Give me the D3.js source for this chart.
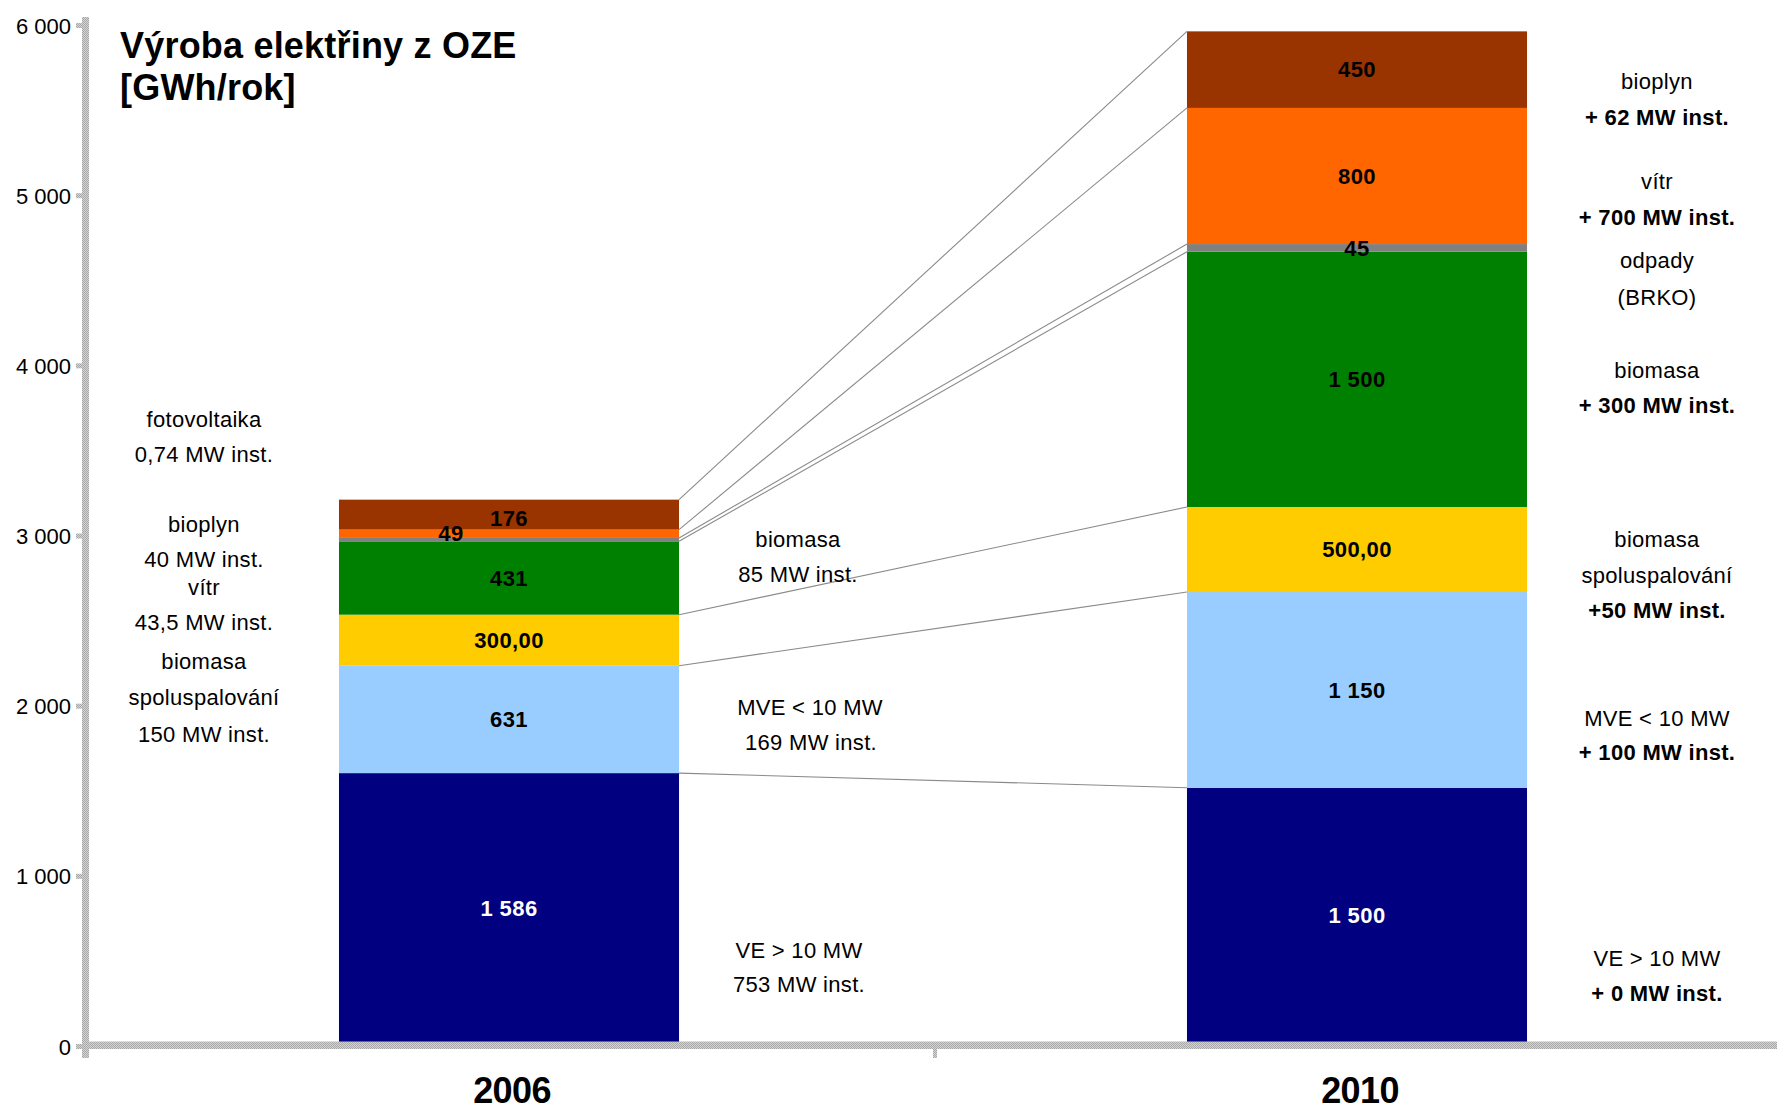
<!DOCTYPE html>
<html>
<head>
<meta charset="utf-8">
<script src="https://cdn.jsdelivr.net/npm/d3@7/dist/d3.min.js"></script>
<style>
  html, body { margin: 0; padding: 0; background: #fff; }
  svg { display: block; font-family: "Liberation Sans", Arial, sans-serif; }
</style>
</head>
<body>
<script>
// ---------------- DATA ----------------
const categories = ["2006", "2010"];
const seriesKeys = ["VE > 10 MW", "MVE < 10 MW", "biomasa spoluspalování", "biomasa", "odpady (BRKO)", "vítr", "bioplyn"];
const values2006 = [1586, 631, 300, 431, 20, 49, 176];
const values2010 = [1500, 1150, 500, 1500, 45, 800, 450];
const labelDecimals = [0, 0, 2, 0, 0, 0, 0];
const hiddenLabels = ["2006|odpady (BRKO)"];
const yTickValues = [0, 1000, 2000, 3000, 4000, 5000, 6000];
const titleLines = ["Výroba elektřiny z OZE", "[GWh/rok]"];

// annotation texts (layout kept separately below)
const leftNotes = ["fotovoltaika", "0,74 MW inst.", "bioplyn", "40 MW inst.", "vítr", "43,5 MW inst.", "biomasa", "spoluspalování", "150 MW inst."];
const midNotes = ["biomasa", "85 MW inst.", "MVE < 10 MW", "169 MW inst.", "VE > 10 MW", "753 MW inst."];
const rightNotes = ["bioplyn", "+ 62 MW inst.", "vítr", "+ 700 MW inst.", "odpady", "(BRKO)", "biomasa", "+ 300 MW inst.",
                    "biomasa", "spoluspalování", "+50 MW inst.", "MVE < 10 MW", "+ 100 MW inst.", "VE > 10 MW", "+ 0 MW inst."];
const rightBold = [false, true, false, true, false, false, false, true, false, false, true, false, true, false, true];

// ---------------- LAYOUT / STYLE ----------------
const W = 1777, H = 1112;
const colors = ["#000080", "#99ccff", "#ffcc00", "#008000", "#808080", "#ff6600", "#993300"];
const labelColors = ["#ffffff", "#000", "#000", "#000", "#000", "#000", "#000"];
const labelOffsets = { "2006|vítr": [-58, 0], "2006|bioplyn": [0, 4] };
const leftY = [427, 462, 532, 567, 595, 630, 669, 705, 742];
const midLayout = [[798, 547], [798, 582], [810, 715], [811, 750], [799, 958], [799, 992]];
const rightY = [89, 125, 189, 225, 268, 305, 378, 413, 547, 583, 618, 726, 760, 966, 1001];

const locale = d3.formatLocale({ decimal: ",", thousands: "\u00a0", grouping: [3], currency: ["", ""] });

const svg = d3.select("body").append("svg").attr("width", W).attr("height", H);

// hatched axis pattern
const defs = svg.append("defs");
const pat = defs.append("pattern").attr("id", "hatch").attr("width", 2).attr("height", 2)
  .attr("patternUnits", "userSpaceOnUse");
pat.append("rect").attr("width", 2).attr("height", 2).attr("fill", "#d4d4d4");
pat.append("rect").attr("width", 1).attr("height", 1).attr("fill", "#a8a8a8");
pat.append("rect").attr("x", 1).attr("y", 1).attr("width", 1).attr("height", 1).attr("fill", "#a8a8a8");

const x = d3.scaleBand().domain(categories).range([85, 1781]).paddingInner(0.599).paddingOuter(0.2995);
const y = d3.scaleLinear().domain([0, 6000]).range([1043, 22]);

const table = categories.map((c, ci) => {
  const row = { year: c };
  const vals = ci === 0 ? values2006 : values2010;
  seriesKeys.forEach((k, i) => row[k] = vals[i]);
  return row;
});
const stacked = d3.stack().keys(seriesKeys)(table);

// bars
const layers = svg.append("g").selectAll("g").data(stacked).join("g")
  .attr("fill", (d, i) => colors[i]);
layers.selectAll("rect").data(d => d.map(p => ({ p, key: d.key }))).join("rect")
  .attr("x", d => x(d.p.data.year))
  .attr("width", x.bandwidth())
  .attr("y", d => y(d.p[1]))
  .attr("height", d => y(d.p[0]) - y(d.p[1]));

// connector lines between stacks
svg.append("g").selectAll("line").data(stacked).join("line")
  .attr("x1", x(categories[0]) + x.bandwidth())
  .attr("y1", d => y(d[0][1]))
  .attr("x2", x(categories[1]))
  .attr("y2", d => y(d[1][1]))
  .attr("stroke", "#8a8a8a").attr("stroke-width", 1.1);

// y axis
const yAxis = d3.axisLeft(y).tickValues(yTickValues)
  .tickFormat(d => locale.format(",")(d)).tickSize(0).tickPadding(0);
const ya = svg.append("g").attr("transform", "translate(71,0)").call(yAxis);
ya.select(".domain").remove();
ya.selectAll("text").attr("font-size", 22).attr("fill", "#000")
  .attr("font-family", "Liberation Sans, Arial, sans-serif").attr("dy", "0.32em")
  .attr("transform", "translate(0,4)").attr("letter-spacing", 0);
// tick marks
svg.append("g").selectAll("rect").data(yTickValues).join("rect")
  .attr("x", 76).attr("width", 7).attr("y", d => y(d) + 1).attr("height", 5)
  .attr("fill", "url(#hatch)");
// axis bars
svg.append("rect").attr("x", 82).attr("y", 17).attr("width", 7).attr("height", 1058 - 17).attr("fill", "url(#hatch)");
svg.append("rect").attr("x", 82).attr("y", y(0) - 1.5).attr("width", W - 82).attr("height", 7.5).attr("fill", "url(#hatch)");
// category separator tick
svg.append("rect").attr("x", 933).attr("y", y(0)).attr("width", 4).attr("height", 15).attr("fill", "url(#hatch)");

// category labels
svg.append("g").selectAll("text").data(categories).join("text")
  .attr("x", d => x(d) + x.bandwidth() / 2 + 3)
  .attr("y", 1103)
  .attr("text-anchor", "middle").attr("font-size", 36).attr("font-weight", "bold")
  .attr("letter-spacing", -0.6)
  .text(d => d);

// value labels
const vlabels = [];
stacked.forEach((layer, i) => {
  layer.forEach(p => {
    const id = p.data.year + "|" + layer.key;
    if (hiddenLabels.includes(id)) return;
    const off = labelOffsets[id] || [0, 0];
    vlabels.push({
      x: x(p.data.year) + x.bandwidth() / 2 + off[0],
      y: (y(p[0]) + y(p[1])) / 2 + off[1],
      text: locale.format(",." + labelDecimals[i] + "f")(p[1] - p[0]),
      color: labelColors[i]
    });
  });
});
svg.append("g").selectAll("text").data(vlabels).join("text")
  .attr("x", d => d.x).attr("y", d => d.y).attr("dy", "0.35em")
  .attr("text-anchor", "middle").attr("font-size", 22).attr("font-weight", "bold")
  .attr("letter-spacing", 0.4)
  .attr("fill", d => d.color).text(d => d.text);

// title
svg.append("g").selectAll("text").data(titleLines).join("text")
  .attr("x", 120).attr("y", (d, i) => i === 0 ? 58 : 100)
  .attr("font-size", 36).attr("font-weight", "bold").attr("letter-spacing", 0.2)
  .text(d => d);

// annotations
const noteG = svg.append("g").attr("font-size", 22).attr("text-anchor", "middle").attr("letter-spacing", 0.3);
noteG.selectAll("text.l").data(leftNotes).join("text").attr("class", "l")
  .attr("x", 204).attr("y", (d, i) => leftY[i]).text(d => d);
noteG.selectAll("text.m").data(midNotes).join("text").attr("class", "m")
  .attr("x", (d, i) => midLayout[i][0]).attr("y", (d, i) => midLayout[i][1]).text(d => d);
noteG.selectAll("text.r").data(rightNotes).join("text").attr("class", "r")
  .attr("x", 1657).attr("y", (d, i) => rightY[i])
  .attr("font-weight", (d, i) => rightBold[i] ? "bold" : "normal").text(d => d);
</script>
</body>
</html>
